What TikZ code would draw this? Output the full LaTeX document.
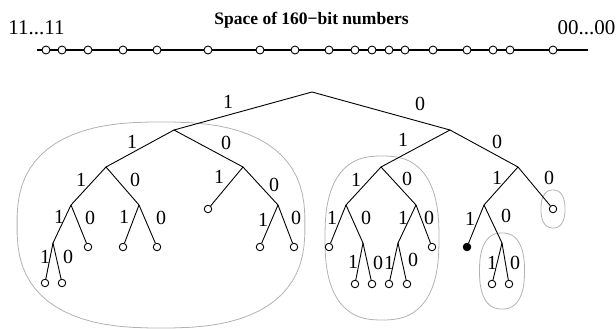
\documentclass[tikz,border=0pt]{standalone}
\usepackage{fontspec}
\setmainfont{Liberation Serif}
\tikzset{
  edge/.style={line width=0.9pt},
  leaf/.style={circle, draw, line width=0.9pt, fill=white, inner sep=0pt, minimum size=7.5pt},
  full/.style={leaf, fill=black},
  axleaf/.style={leaf, minimum size=8pt},
  lab/.style={font=\fontsize{20}{20}\selectfont, inner sep=0pt},
  endlab/.style={font=\fontsize{21}{21}\selectfont, inner sep=0pt},
  title/.style={font=\fontsize{17.5}{17.5}\selectfont\bfseries, inner sep=0pt},
  blob/.style={draw=black!30, line width=0.8pt},
  axis/.style={line width=1.5pt},
}
\newcommand\blobshape[5]{%
  \draw[blob] plot[domain=2.5:362.5,samples=73]
    ({#1+#3*cos(\x)*abs(cos(\x))^(#5-1)},{#2+#4*sin(\x)*abs(sin(\x))^(#5-1)}) -- cycle;}
\begin{document}
\begin{tikzpicture}[x=1pt,y=-1pt]
\useasboundingbox (0,0) rectangle (616,329);
% top axis
\node[endlab] (lefttxt) at (36.5,28) {11...11};
\node[endlab] (righttxt) at (586.5,28) {00...00};
\node[title] (ttl) at (311.5,20) {Space of 160−bit numbers};
\coordinate (axl) at (37,50);
\coordinate (axr) at (588,50);
\draw[axis] (axl) -- (axr);
\foreach \p [count=\i] in {46,62,88,123,157,208,260,295,329,355,372,389,405,433,467,493,510,553}
  \node[axleaf] (t\i) at (\p,50) {};
% blobs
\blobshape{161}{225}{144}{103}{0.78}
\blobshape{382}{238}{57}{82}{0.78}
\blobshape{553}{209}{12}{19}{0.85}
\blobshape{502}{271}{22.5}{38}{0.82}
% tree nodes
\coordinate (r) at (312,92);
\coordinate (L) at (174,130);
\coordinate (R) at (450,130);
\coordinate (LL) at (106,167);
\coordinate (LR) at (243,167);
\coordinate (LLL) at (71,205);
\coordinate (LLR) at (139,205);
\node[leaf] (LRL) at (208,209) {};
\coordinate (LRR) at (278,205);
\coordinate (LLLL) at (53,243);
\node[leaf] (LLLR) at (88,247) {};
\node[leaf] (LLRL) at (123,247) {};
\node[leaf] (LLRR) at (157,247) {};
\node[leaf] (LRRL) at (260,247) {};
\node[leaf] (LRRR) at (294,247) {};
\node[leaf] (LLLLL) at (45,283) {};
\node[leaf] (LLLLR) at (62,283) {};
\coordinate (RL) at (381,167);
\coordinate (RR) at (518,167);
\coordinate (RLL) at (346,205);
\coordinate (RLR) at (416,205);
\node[leaf] (RLLL) at (329,247) {};
\coordinate (RLLR) at (363,243);
\coordinate (RLRL) at (398,243);
\node[leaf] (RLRR) at (432,247) {};
\node[leaf] (RLLRL) at (355,284) {};
\node[leaf] (RLLRR) at (372,284) {};
\node[leaf] (RLRLL) at (389,284) {};
\node[leaf] (RLRLR) at (407,284) {};
\coordinate (RRL) at (484,205);
\node[leaf] (RRR) at (553,209) {};
\node[full] (RRLL) at (467,247) {};
\coordinate (RRLR) at (502,243);
\node[leaf] (RRLRL) at (492,284) {};
\node[leaf] (RRLRR) at (509,284) {};
% edges
\draw[edge] (L) -- (r) -- (R);
\draw[edge] (LL) -- (L) -- (LR);
\draw[edge] (LLL) -- (LL) -- (LLR);
\draw[edge] (LR) -- (LRL);
\draw[edge] (LR) -- (LRR);
\draw[edge] (LLL) -- (LLLL);
\draw[edge] (LLL) -- (LLLR);
\draw[edge] (LLR) -- (LLRL);
\draw[edge] (LLR) -- (LLRR);
\draw[edge] (LRR) -- (LRRL);
\draw[edge] (LRR) -- (LRRR);
\draw[edge] (LLLL) -- (LLLLL);
\draw[edge] (LLLL) -- (LLLLR);
\draw[edge] (RL) -- (R) -- (RR);
\draw[edge] (RLL) -- (RL) -- (RLR);
\draw[edge] (RLL) -- (RLLL);
\draw[edge] (RLL) -- (RLLR);
\draw[edge] (RLR) -- (RLRL);
\draw[edge] (RLR) -- (RLRR);
\draw[edge] (RLLR) -- (RLLRL);
\draw[edge] (RLLR) -- (RLLRR);
\draw[edge] (RLRL) -- (RLRLL);
\draw[edge] (RLRL) -- (RLRLR);
\draw[edge] (RR) -- (RRL);
\draw[edge] (RR) -- (RRR);
\draw[edge] (RRL) -- (RRLL);
\draw[edge] (RRL) -- (RRLR);
\draw[edge] (RRLR) -- (RRLRL);
\draw[edge] (RRLR) -- (RRLRR);
% labels
\node[lab] (a1) at (228,102) {1};
\node[lab] (a2) at (420,104) {0};
\node[lab] (a3) at (132,142) {1};
\node[lab] (a4) at (226,143) {0};
\node[lab] (a5) at (81,180) {1};
\node[lab] (a6) at (135,180) {0};
\node[lab] (a7) at (219,177) {1};
\node[lab] (a8) at (274,185) {0};
\node[lab] (a9) at (59,217) {1};
\node[lab] (a10) at (90,218) {0};
\node[lab] (a11) at (124,217) {1};
\node[lab] (a12) at (161,218) {0};
\node[lab] (a13) at (263,220) {1};
\node[lab] (a14) at (296,218) {0};
\node[lab] (a15) at (45,257) {1};
\node[lab] (a16) at (68,257) {0};
\node[lab] (b1) at (403,140) {1};
\node[lab] (b2) at (497,142) {0};
\node[lab] (b3) at (356,180) {1};
\node[lab] (b4) at (407,179) {0};
\node[lab] (b5) at (332,218) {1};
\node[lab] (b6) at (366,218) {0};
\node[lab] (b7) at (403,218) {1};
\node[lab] (b8) at (429,218) {0};
\node[lab] (b9) at (353,262) {1};
\node[lab] (b10) at (378,263) {0};
\node[lab] (b11) at (389,263) {1};
\node[lab] (b12) at (413,260) {0};
\node[lab] (b13) at (497,178) {1};
\node[lab] (b14) at (549,178) {0};
\node[lab] (b15) at (470,219) {1};
\node[lab] (b16) at (506,216) {0};
\node[lab] (b17) at (492,263) {1};
\node[lab] (b18) at (515,263) {0};
\end{tikzpicture}
\end{document}
